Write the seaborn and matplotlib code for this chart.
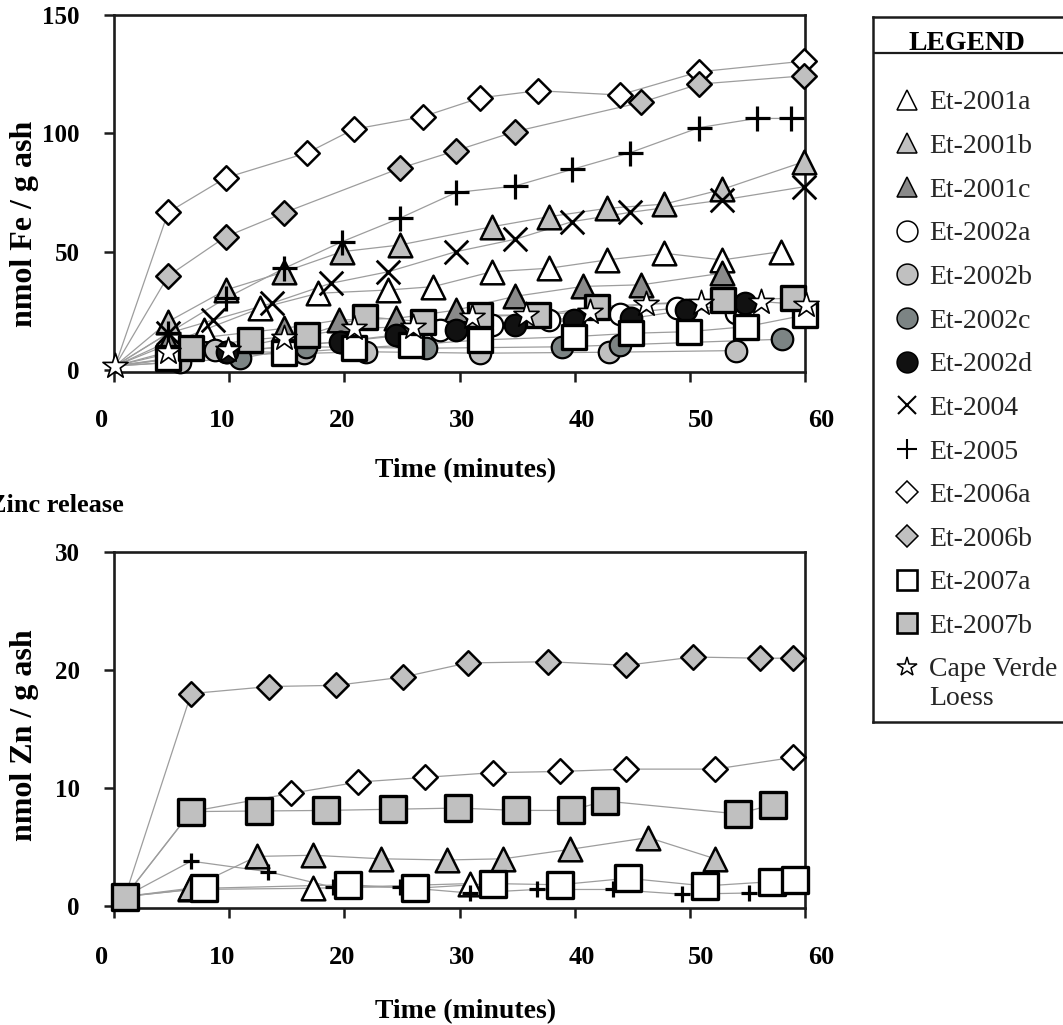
import matplotlib
matplotlib.use("Agg")
import matplotlib.pyplot as plt
import seaborn as sns
from matplotlib.lines import Line2D
from matplotlib.legend_handler import HandlerLine2D
from matplotlib.transforms import ScaledTranslation

# ---------------- data: iron (nmol Fe / g ash) ----------------
fe_origin_t = 0.1
fe_origin_v = 1.7

fe_2001a_t = [7.8, 12.7, 17.7, 23.8, 27.7, 32.8, 37.8, 42.8, 47.8, 52.8, 57.9]
fe_2001a_v = [16.9, 26.1, 32.4, 33.8, 35.2, 41.5, 43.0, 46.5, 49.3, 46.5, 50.0]
fe_2001b_t = [4.7, 9.7, 14.8, 19.8, 24.8, 32.8, 37.8, 42.8, 47.8, 52.8, 59.9]
fe_2001b_v = [20.4, 33.8, 41.5, 50.0, 52.8, 60.5, 64.8, 68.3, 70.1, 76.3, 88.0]
fe_2001c_t = [4.7, 14.8, 19.5, 24.5, 29.7, 34.8, 40.7, 45.8, 52.8]
fe_2001c_v = [12.0, 17.6, 21.1, 21.8, 25.3, 31.1, 35.3, 36.0, 40.9]
fe_2002a_t = [9.7, 19.7, 24.8, 28.3, 32.8, 37.8, 43.9, 48.9, 54.0]
fe_2002a_v = [7.5, 12.0, 14.5, 16.9, 19.0, 21.1, 23.7, 26.2, 24.1]
fe_2002b_t = [5.7, 8.8, 16.5, 21.9, 31.8, 43.0, 54.0]
fe_2002b_v = [3.5, 8.4, 7.0, 7.7, 7.1, 7.5, 8.2]
fe_2002c_t = [10.9, 16.7, 27.1, 38.9, 43.9, 58.0]
fe_2002c_v = [4.9, 9.8, 9.2, 9.8, 10.6, 13.0]
fe_2002d_t = [9.8, 19.6, 24.5, 29.7, 34.8, 39.9, 44.9, 49.7, 54.8]
fe_2002d_v = [7.7, 12.0, 14.8, 16.9, 19.0, 21.1, 21.8, 25.3, 28.2]
fe_2004_t = [4.7, 8.6, 13.7, 18.8, 23.8, 29.7, 34.8, 39.8, 44.8, 52.8, 59.9]
fe_2004_v = [15.5, 21.1, 28.2, 36.6, 41.5, 50.0, 55.2, 62.7, 66.6, 71.8, 77.4]
fe_2005_t = [4.7, 9.7, 14.8, 19.8, 24.8, 29.7, 34.8, 39.8, 44.8, 50.8, 55.8, 58.8]
fe_2005_v = [15.5, 30.3, 43.0, 54.2, 64.1, 75.0, 77.7, 84.8, 91.8, 102.4, 106.3, 106.3]
fe_2006a_t = [4.7, 9.7, 16.8, 20.8, 26.8, 31.8, 36.8, 43.9, 50.8, 59.9]
fe_2006a_v = [66.6, 81.2, 91.8, 101.7, 107.0, 115.0, 118.0, 116.2, 126.0, 130.5]
fe_2006b_t = [4.7, 9.7, 14.8, 24.8, 29.7, 34.8, 45.8, 50.8, 59.9]
fe_2006b_v = [39.7, 56.3, 66.5, 85.2, 92.7, 100.7, 113.1, 120.8, 124.3]
fe_2007a_t = [4.7, 14.8, 20.8, 25.8, 31.8, 39.9, 44.9, 49.9, 54.9, 60.0]
fe_2007a_v = [4.9, 7.1, 9.2, 10.6, 12.7, 14.1, 15.5, 16.2, 18.3, 23.2]
fe_2007b_t = [6.7, 11.8, 16.8, 21.8, 26.8, 31.8, 36.8, 41.9, 52.9, 59.0]
fe_2007b_v = [9.2, 12.7, 14.8, 22.5, 20.4, 23.2, 23.2, 26.7, 29.6, 30.3]
fe_cv_t = [0.1, 4.7, 9.9, 14.8, 20.8, 26.0, 31.1, 35.8, 41.3, 46.2, 51.0, 56.2, 60.1]
fe_cv_v = [1.7, 7.7, 8.4, 13.4, 17.6, 18.3, 22.5, 23.2, 24.6, 27.9, 28.2, 28.9, 27.5]

# ---------------- data: zinc (nmol Zn / g ash) ----------------
zn_origin_t = 0.95
zn_origin_v = 0.8

zn_2001a_t = [6.6, 17.3, 30.9]
zn_2001a_v = [1.4, 1.5, 1.9]
zn_2001b_t = [6.6, 12.4, 17.3, 23.2, 28.9, 33.8, 39.6, 46.4, 52.2]
zn_2001b_v = [1.5, 4.2, 4.3, 4.0, 3.9, 4.0, 4.8, 5.8, 4.0]
zn_2005_t = [6.7, 13.4, 19.0, 24.8, 30.9, 36.7, 43.3, 49.3, 55.1]
zn_2005_v = [3.8, 2.9, 1.6, 1.6, 1.1, 1.4, 1.4, 1.0, 1.1]
zn_2006a_t = [6.7, 15.4, 21.2, 27.0, 32.9, 38.7, 44.5, 52.2, 59.0]
zn_2006a_v = [8.0, 9.55, 10.5, 10.9, 11.3, 11.4, 11.6, 11.6, 12.6]
zn_2006b_t = [6.7, 13.5, 19.3, 25.1, 30.7, 37.7, 44.5, 50.3, 56.1, 59.0]
zn_2006b_v = [18.0, 18.6, 18.7, 19.4, 20.6, 20.7, 20.4, 21.1, 21.0, 21.0]
zn_2007a_t = [7.8, 20.3, 26.1, 32.9, 38.7, 44.6, 51.3, 57.1, 59.1]
zn_2007a_v = [1.5, 1.8, 1.5, 1.9, 1.8, 2.35, 1.7, 2.06, 2.2]
zn_2007b_t = [0.95, 6.7, 12.6, 18.4, 24.2, 29.9, 34.9, 39.7, 42.6, 54.2, 57.2]
zn_2007b_v = [0.8, 8.0, 8.05, 8.1, 8.2, 8.3, 8.1, 8.1, 8.9, 7.8, 8.6]

x_ticks = [0, 10, 20, 30, 40, 50, 60]
fe_ticks = [0, 50, 100, 150]
zn_ticks = [0, 10, 20, 30]

legend_labels = ["Et-2001a", "Et-2001b", "Et-2001c", "Et-2002a", "Et-2002b",
                 "Et-2002c", "Et-2002d", "Et-2004", "Et-2005", "Et-2006a",
                 "Et-2006b", "Et-2007a", "Et-2007b", "Cape Verde\nLoess"]

# ---------------- styles ----------------
LG = "#c0c0c0"
DG = "#8a8a8a"
CDG = "#7c8484"
styles = {
    "Et-2001a": dict(marker="^", fc="white", ms=17, mew=1.8),
    "Et-2001b": dict(marker="^", fc=LG, ms=17, mew=1.8),
    "Et-2001c": dict(marker="^", fc=DG, ms=17, mew=1.8),
    "Et-2002a": dict(marker="o", fc="white", ms=15.5, mew=1.6),
    "Et-2002b": dict(marker="o", fc=LG, ms=15.5, mew=1.6),
    "Et-2002c": dict(marker="o", fc=CDG, ms=15.5, mew=1.6),
    "Et-2002d": dict(marker="o", fc="#111111", ms=15.5, mew=1.6),
    "Et-2004": dict(marker="x", fc="black", ms=17, mew=2.0),
    "Et-2005": dict(marker="+", fc="black", ms=18, mew=2.3),
    "Et-2006a": dict(marker="D", fc="white", ms=12.5, mew=1.8),
    "Et-2006b": dict(marker="D", fc=LG, ms=12.5, mew=1.8),
    "Et-2007a": dict(marker="s", fc="white", ms=17, mew=2.4),
    "Et-2007b": dict(marker="s", fc=LG, ms=17, mew=2.4),
    "Cape Verde\nLoess": dict(marker="*", fc="white", ms=19, mew=1.2),
}

sns.set_theme(style="white")
plt.rcParams["font.family"] = ["Liberation Serif", "DejaVu Serif"]
plt.rcParams["font.weight"] = "bold"

fig = plt.figure(figsize=(10.63, 10.25), dpi=100)
W, H = 1063.0, 1025.0
ax_fe = fig.add_axes([114 / W, 1 - 372 / H, 691 / W, 357 / H])
ax_zn = fig.add_axes([114 / W, 1 - 908 / H, 691 / W, 356 / H])

LINE_C = "#9d9d9d"


def draw(ax, origin, t, v, key, z, scale=1.0):
    st = styles[key]
    xs = [origin[0]] + list(t)
    ys = [origin[1]] + list(v)
    sns.lineplot(x=xs, y=ys, ax=ax, color=LINE_C, linewidth=0.9, sort=False,
                 estimator=None, legend=False, zorder=1)
    ms = st["ms"] * scale
    if st["marker"] in ("x", "+"):
        sns.scatterplot(x=t, y=v, ax=ax, marker=st["marker"],
                        s=ms ** 2, color="black", linewidth=st["mew"],
                        legend=False, zorder=z, clip_on=False)
    else:
        sns.scatterplot(x=t, y=v, ax=ax, marker=st["marker"],
                        s=ms ** 2, color=st["fc"], edgecolor="black",
                        linewidth=st["mew"], legend=False, zorder=z, clip_on=False)


fe_o = (fe_origin_t, fe_origin_v)
fe_series = [
    ("Et-2001a", fe_2001a_t, fe_2001a_v), ("Et-2001b", fe_2001b_t, fe_2001b_v),
    ("Et-2001c", fe_2001c_t, fe_2001c_v), ("Et-2002a", fe_2002a_t, fe_2002a_v),
    ("Et-2002b", fe_2002b_t, fe_2002b_v), ("Et-2002c", fe_2002c_t, fe_2002c_v),
    ("Et-2002d", fe_2002d_t, fe_2002d_v), ("Et-2004", fe_2004_t, fe_2004_v),
    ("Et-2005", fe_2005_t, fe_2005_v), ("Et-2006a", fe_2006a_t, fe_2006a_v),
    ("Et-2006b", fe_2006b_t, fe_2006b_v), ("Et-2007a", fe_2007a_t, fe_2007a_v),
    ("Et-2007b", fe_2007b_t, fe_2007b_v), ("Cape Verde\nLoess", fe_cv_t, fe_cv_v),
]
for i, (k, t, v) in enumerate(fe_series):
    draw(ax_fe, fe_o, t, v, k, 3 + i)

zn_o = (zn_origin_t, zn_origin_v)
zn_series = [
    ("Et-2001a", zn_2001a_t, zn_2001a_v), ("Et-2001b", zn_2001b_t, zn_2001b_v),
    ("Et-2005", zn_2005_t, zn_2005_v), ("Et-2006a", zn_2006a_t, zn_2006a_v),
    ("Et-2006b", zn_2006b_t, zn_2006b_v), ("Et-2007a", zn_2007a_t, zn_2007a_v),
    ("Et-2007b", zn_2007b_t, zn_2007b_v),
]
zn_scale = {"Et-2005": 0.62, "Et-2007a": 1.08, "Et-2007b": 1.1}
for i, (k, t, v) in enumerate(zn_series):
    draw(ax_zn, zn_o, t, v, k, 3 + i, scale=zn_scale.get(k, 1.0))

SP = "#1c1c1c"
for ax, ylim, yt, ylab, xpad, ycoord, xcoord in [
    (ax_fe, (-0.85, 150), fe_ticks, "nmol Fe / g ash", 19, 0.415, -0.275),
    (ax_zn, (-0.17, 30), zn_ticks, "nmol Zn / g ash", 20, 0.486, -0.29),
]:
    ax.set_xlim(0, 60)
    ax.set_ylim(*ylim)
    ax.set_xticks(x_ticks)
    ax.set_yticks(yt)
    for sp in ax.spines.values():
        sp.set_visible(True)
        sp.set_color(SP)
        sp.set_linewidth(1.9)
    ax.tick_params(axis="both", which="major", bottom=True, left=True, direction="out",
                   length=7.5, width=1.8, color=SP, labelcolor="black", labelsize=19)
    ax.tick_params(axis="x", pad=xpad)
    ax.tick_params(axis="y", pad=17, labelsize=18)
    ax.set_xlabel("Time (minutes)", fontsize=20, fontweight="bold", color="black")
    ax.xaxis.set_label_coords(0.509, xcoord)
    ax.xaxis.label.set_verticalalignment("center")
    ax.set_ylabel(ylab, fontsize=23, fontweight="bold", color="black")
    ax.yaxis.set_label_coords(-0.129, ycoord)
    ax.yaxis.label.set_verticalalignment("center")
    for k, lab in enumerate(ax.get_xticklabels()):
        dx = -12 + 4.7 * k
        lab.set_transform(lab.get_transform() + ScaledTranslation(dx / 100.0, 0, fig.dpi_scale_trans))

# the section title is cut at the left edge in the reference as well
fig.text(-11 / W, 1 - 505 / H, "Zinc release", fontsize=19, fontweight="bold",
         ha="left", va="center", color="black")

# ---------------- legend box ----------------
lb_top, lb_bot = 17, 722
LBH = float(lb_bot - lb_top)
ax_leg = fig.add_axes([873 / W, 1 - lb_bot / H, 0.2, LBH / H])
ax_leg.set_xlim(0, 1)
ax_leg.set_ylim(0, 1)
ax_leg.set_xticks([])
ax_leg.set_yticks([])
for sp in ax_leg.spines.values():
    sp.set_visible(True)
    sp.set_color(SP)
    sp.set_linewidth(1.8)
ax_leg.axhline((lb_bot - 53) / LBH, color=SP, linewidth=1.6)
ax_leg.text((967 - 873) / 212.6, (lb_bot - 44) / LBH, "LEGEND",
            fontsize=20, fontweight="bold", ha="center", va="center", color="black")

leg_ms = {"^": 15, "o": 15, "x": 13, "+": 15, "D": 11, "s": 15, "*": 15}
handles = []
for lab in legend_labels:
    st = styles[lab]
    m = st["marker"]
    if m in ("x", "+"):
        h = Line2D([], [], linestyle="", marker=m, markersize=leg_ms[m],
                   color="black", markeredgewidth=1.5)
    else:
        h = Line2D([], [], linestyle="", marker=m, markersize=leg_ms[m],
                   markerfacecolor=st["fc"], markeredgecolor="black",
                   markeredgewidth=1.9 if m == "s" else 1.1)
    handles.append(h)


class FirstLineHandler(HandlerLine2D):
    """Put the marker level with the first line of a two-line label."""

    def create_artists(self, legend, orig_handle, xdescent, ydescent, width, height,
                       fontsize, trans):
        arts = super().create_artists(legend, orig_handle, xdescent, ydescent, width,
                                      height, fontsize, trans)
        for a in arts:
            a.set_ydata([y + 12.0 for y in a.get_ydata()])
        return arts


leg = ax_leg.legend(handles, legend_labels, loc="upper left",
                    bbox_to_anchor=((893 - 873) / 212.6, (lb_bot - 90) / LBH),
                    frameon=False, handlelength=1.0, handletextpad=0.3,
                    borderpad=0, borderaxespad=0, labelspacing=0.655,
                    handler_map={handles[-1]: FirstLineHandler()},
                    prop={"family": "Liberation Serif", "weight": "normal", "size": 20})

fig.savefig("out.png", dpi=100)
